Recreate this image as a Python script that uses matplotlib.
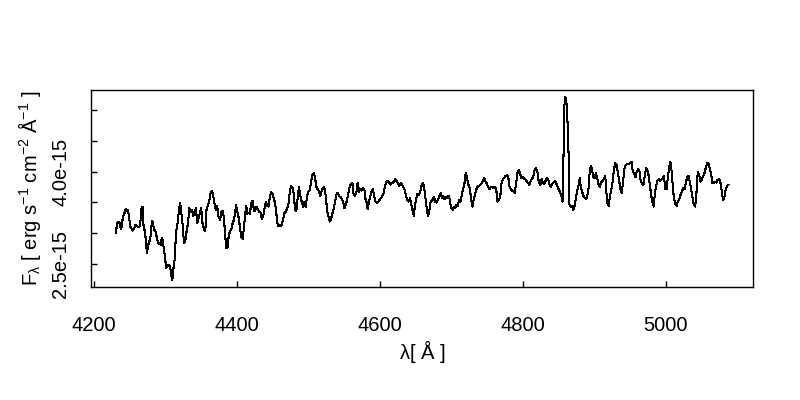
import matplotlib
matplotlib.use("Agg")
import matplotlib.pyplot as plt
import numpy as np

plt.rcParams['font.family'] = ['Liberation Sans', 'DejaVu Sans']
plt.rcParams['mathtext.fontset'] = 'custom'
plt.rcParams['mathtext.rm'] = 'Liberation Sans'
plt.rcParams['mathtext.it'] = 'Liberation Sans'
plt.rcParams['mathtext.default'] = 'regular'

# ---- data: wavelength [Angstrom] and flux [1e-15 erg/s/cm2/A] ----
wl_a = [4230.2, 4232.0, 4233.4, 4235.8, 4237.2, 4238.5, 4240.3, 4242.7, 4244.1, 4245.9, 4247.3, 4248.7,
        4250.6, 4252.5, 4254.3, 4256.2, 4258.0, 4259.8, 4261.8, 4263.6, 4265.0, 4266.4, 4267.8, 4269.2,
        4271.0, 4272.4, 4273.8, 4275.2, 4276.5, 4278.5, 4279.9, 4281.3, 4282.7, 4284.1, 4285.9, 4287.7,
        4289.6, 4291.4, 4293.3, 4294.6, 4296.0, 4297.4, 4298.8, 4300.8, 4302.6, 4304.4, 4306.4, 4307.7,
        4309.5, 4311.3, 4312.7, 4314.7, 4316.5, 4318.3, 4320.3, 4322.1, 4323.9, 4325.8, 4327.6, 4329.4,
        4331.4, 4333.2, 4335.0, 4337.0, 4338.8, 4340.6, 4342.5, 4344.3, 4346.1, 4348.1, 4349.9, 4351.7,
        4353.7, 4355.5, 4357.3, 4359.2, 4361.0, 4362.9, 4364.8, 4366.6, 4368.4, 4370.4, 4372.2, 4374.0]
flux_a = [3.002, 3.136, 3.190, 3.174, 3.066, 3.109, 3.261, 3.336, 3.391, 3.368, 3.383, 3.282,
          3.109, 3.071, 3.044, 3.083, 3.136, 3.120, 3.099, 3.109, 3.217, 3.407, 3.433, 3.109,
          3.028, 2.893, 2.677, 2.774, 2.849, 2.893, 3.086, 3.201, 3.136, 3.055, 3.028, 2.936,
          2.839, 2.828, 2.812, 2.920, 2.893, 2.758, 2.649, 2.433, 2.459, 2.487, 2.470, 2.325,
          2.244, 2.459, 2.568, 3.028, 3.136, 3.326, 3.498, 3.326, 3.136, 2.839, 2.866, 3.028,
          3.164, 3.407, 3.352, 3.380, 3.271, 3.352, 3.407, 3.164, 3.245, 3.326, 3.407, 3.164,
          3.055, 3.028, 3.380, 3.461, 3.514, 3.651, 3.693, 3.623, 3.488, 3.380, 3.445, 3.271]

wl_b = [4376.3, 4378.2, 4380.1, 4381.9, 4383.3, 4385.1, 4387.1, 4388.5, 4390.3, 4392.1, 4394.0, 4395.8,
        4397.7, 4398.6, 4400.4, 4402.4, 4404.2, 4406.0, 4407.9, 4409.8, 4411.6, 4413.0, 4414.4, 4416.3,
        4418.1, 4419.9, 4421.9, 4423.7, 4425.5, 4427.4, 4429.2, 4431.1, 4433.0, 4434.8, 4436.6, 4438.6,
        4440.4, 4442.2, 4444.1, 4446.0, 4447.8, 4449.7, 4451.5, 4453.3, 4455.3, 4457.1, 4458.9, 4460.9,
        4462.7, 4464.5, 4466.4, 4468.2, 4470.0, 4472.0, 4473.8, 4475.6, 4477.5, 4479.4, 4481.2, 4483.1,
        4484.9, 4486.7, 4488.7, 4490.5, 4492.3, 4494.3, 4496.1, 4497.9, 4499.8, 4501.6, 4503.4, 4505.4,
        4507.2, 4509.0, 4511.0, 4512.8, 4514.6, 4516.5, 4518.3, 4520.1, 4522.1]
flux_b = [3.217, 3.352, 3.363, 3.217, 2.974, 2.758, 2.784, 2.974, 3.028, 3.066, 3.164, 3.217,
          3.352, 3.461, 3.352, 3.245, 3.083, 2.947, 2.904, 3.109, 3.326, 3.445, 3.315, 3.336,
          3.315, 3.488, 3.531, 3.368, 3.368, 3.433, 3.391, 3.347, 3.336, 3.232, 3.271, 3.407,
          3.514, 3.445, 3.433, 3.586, 3.677, 3.635, 3.570, 3.488, 3.299, 3.120, 3.136, 3.120,
          3.136, 3.228, 3.326, 3.352, 3.391, 3.477, 3.660, 3.769, 3.748, 3.650, 3.380, 3.363,
          3.570, 3.758, 3.607, 3.514, 3.433, 3.514, 3.423, 3.596, 3.677, 3.693, 3.813, 3.948,
          3.976, 3.921, 3.758, 3.716, 3.677, 3.596, 3.677, 3.732, 3.748]

wl_c = [4524.3, 4526.3, 4528.1, 4529.9, 4531.9, 4533.6, 4535.5, 4537.4, 4539.2, 4541.1, 4543.0, 4544.8,
        4546.6, 4548.6, 4550.3, 4552.2, 4554.1, 4555.9, 4557.7, 4559.7, 4561.5, 4563.3, 4565.2, 4567.0,
        4568.9, 4570.8, 4572.6, 4574.4, 4576.4, 4578.2, 4580.0, 4582.0, 4582.8, 4584.7, 4586.5, 4588.4,
        4590.3, 4592.1, 4593.9, 4595.9, 4597.7, 4599.5, 4601.4, 4603.2, 4605.1, 4607.0, 4608.8, 4610.6,
        4612.6, 4614.4, 4616.2, 4618.1, 4620.0, 4621.8, 4623.7, 4625.5, 4627.3, 4629.3, 4631.1, 4632.9,
        4634.9, 4636.7, 4638.5, 4640.4, 4642.2, 4644.0, 4646.0, 4647.4, 4648.8, 4650.6, 4652.4, 4654.4,
        4656.1, 4658.0, 4659.9, 4661.7, 4663.5, 4665.5, 4667.3, 4669.1, 4671.0]
flux_c = [3.596, 3.352, 3.271, 3.190, 3.245, 3.326, 3.407, 3.514, 3.623, 3.660, 3.596, 3.596,
          3.553, 3.514, 3.407, 3.461, 3.542, 3.651, 3.758, 3.802, 3.823, 3.623, 3.607, 3.660,
          3.823, 3.677, 3.716, 3.693, 3.732, 3.716, 3.542, 3.488, 3.391, 3.514, 3.596, 3.677,
          3.716, 3.596, 3.514, 3.488, 3.514, 3.542, 3.570, 3.596, 3.651, 3.758, 3.840, 3.851,
          3.823, 3.791, 3.813, 3.823, 3.840, 3.878, 3.840, 3.813, 3.769, 3.823, 3.786, 3.748,
          3.704, 3.596, 3.542, 3.514, 3.570, 3.461, 3.352, 3.282, 3.433, 3.542, 3.639, 3.623,
          3.660, 3.758, 3.813, 3.769, 3.596, 3.407, 3.271, 3.352, 3.514]

wl_d = [4673.8, 4675.6, 4677.5, 4679.4, 4681.2, 4683.0, 4685.0, 4686.8, 4688.6, 4690.5, 4692.3, 4694.2,
        4696.1, 4697.9, 4699.7, 4701.7, 4703.5, 4705.3, 4707.3, 4709.0, 4710.9, 4712.8, 4714.6, 4716.5,
        4718.4, 4720.2, 4722.0, 4724.0, 4725.7, 4727.6, 4729.5, 4731.3, 4733.1, 4735.1, 4736.9, 4738.7,
        4740.6, 4742.4, 4744.3, 4746.2, 4748.0, 4749.8, 4751.8, 4753.6, 4755.4, 4757.4, 4759.1, 4761.0,
        4762.9, 4764.7, 4766.5, 4768.5, 4770.3, 4772.1, 4774.0, 4775.9, 4777.7, 4779.6, 4781.4, 4783.2,
        4785.2, 4787.0, 4788.8, 4790.8, 4792.6, 4794.4, 4796.4, 4798.1, 4800.0, 4801.9, 4803.7, 4805.5,
        4807.5, 4809.3, 4811.1, 4813.0, 4814.8, 4816.7, 4818.6, 4820.4, 4822.3]
flux_d = [3.542, 3.596, 3.514, 3.498, 3.542, 3.596, 3.651, 3.570, 3.607, 3.553, 3.596, 3.570,
          3.607, 3.542, 3.407, 3.380, 3.423, 3.407, 3.461, 3.445, 3.542, 3.514, 3.623, 3.716,
          3.813, 3.976, 3.894, 3.786, 3.732, 3.570, 3.433, 3.542, 3.623, 3.716, 3.758, 3.769,
          3.786, 3.813, 3.855, 3.894, 3.840, 3.802, 3.748, 3.716, 3.748, 3.748, 3.732, 3.758,
          3.704, 3.514, 3.542, 3.596, 3.813, 3.878, 3.894, 3.931, 3.943, 3.921, 3.758, 3.716,
          3.693, 3.677, 3.660, 3.813, 3.976, 4.029, 3.964, 3.894, 3.921, 3.878, 3.878, 3.840,
          3.813, 3.786, 3.855, 3.878, 3.931, 4.029, 4.056, 4.001, 3.840]

wl_e = [4824.6, 4826.4, 4828.4, 4830.1, 4832.0, 4833.9, 4835.7, 4837.5, 4839.5, 4841.3, 4843.1, 4845.0,
        4846.8, 4848.7, 4850.6, 4852.4, 4854.2, 4855.6, 4857.0, 4858.0, 4859.0, 4860.4, 4861.7, 4863.1,
        4864.5, 4865.4, 4867.3, 4869.1, 4870.9, 4872.9, 4874.7, 4876.5, 4878.5, 4879.8, 4881.2, 4883.0,
        4884.9, 4886.8, 4888.6, 4890.4, 4892.4, 4893.8, 4895.6, 4897.0, 4898.8, 4900.7, 4902.5, 4904.3,
        4906.3, 4908.1, 4909.9, 4911.9, 4913.7, 4915.5, 4916.4, 4918.3, 4920.2, 4922.0, 4923.9, 4925.8,
        4927.6, 4929.4, 4931.4, 4933.1, 4935.0, 4936.9, 4938.7, 4940.6, 4942.5, 4944.3, 4946.1, 4948.1]
flux_e = [3.786, 3.878, 3.823, 3.802, 3.855, 3.894, 3.878, 3.786, 3.758, 3.802, 3.823, 3.855,
          3.813, 3.758, 3.704, 3.660, 3.607, 3.514, 4.245, 5.003, 5.209, 5.193, 5.057, 4.679,
          4.138, 3.461, 3.433, 3.445, 3.380, 3.461, 3.596, 3.704, 3.802, 3.894, 3.758, 3.677,
          3.607, 3.570, 3.553, 3.607, 3.758, 4.029, 4.094, 4.029, 3.910, 3.894, 3.976, 3.894,
          3.786, 3.758, 3.840, 3.840, 3.894, 3.931, 3.758, 3.488, 3.445, 3.596, 3.704, 3.840,
          4.029, 4.138, 4.110, 3.985, 3.840, 3.704, 3.651, 3.867, 4.056, 4.110, 4.126, 4.126]

wl_f = [4950.8, 4952.2, 4954.0, 4955.8, 4957.8, 4959.6, 4961.4, 4963.4, 4965.2, 4967.0, 4969.0, 4970.7,
        4972.6, 4974.5, 4976.3, 4978.1, 4980.1, 4981.9, 4983.3, 4984.7, 4986.5, 4988.4, 4990.2, 4992.0,
        4994.0, 4995.8, 4997.6, 4999.6, 5001.4, 5003.2, 5005.1, 5006.5, 5007.9, 5009.7, 5011.5, 5013.5,
        5015.3, 5017.1, 5019.0, 5020.8, 5022.7, 5024.6, 5026.4, 5028.3, 5030.2, 5032.0, 5033.8, 5035.8,
        5037.5, 5039.4, 5041.3, 5043.1, 5045.0, 5046.9, 5048.7, 5050.5, 5052.5, 5054.3, 5056.1, 5058.0,
        5059.8, 5061.6, 5063.6, 5065.4, 5067.2, 5069.2, 5070.9, 5072.8, 5074.7, 5076.5, 5078.3, 5080.3,
        5082.1, 5083.9, 5085.9, 5087.7]
flux_f = [4.147, 4.164, 4.001, 3.976, 3.910, 4.001, 4.040, 4.001, 3.840, 3.802, 3.786, 3.931,
          4.056, 4.017, 3.931, 3.758, 3.596, 3.488, 3.433, 3.623, 3.758, 3.855, 3.878, 3.855,
          3.867, 3.894, 3.931, 3.716, 3.716, 3.921, 4.083, 4.164, 4.056, 3.813, 3.570, 3.477,
          3.445, 3.514, 3.553, 3.623, 3.677, 3.732, 3.716, 3.813, 3.921, 3.931, 3.840, 3.704,
          3.596, 3.461, 3.433, 3.651, 4.001, 3.948, 3.840, 3.867, 3.931, 3.976, 4.056, 4.138,
          4.147, 4.056, 3.976, 3.813, 3.813, 3.840, 3.823, 3.867, 3.878, 3.840, 3.704, 3.542,
          3.570, 3.704, 3.769, 3.786]

x_ticks = [4200, 4400, 4600, 4800, 5000]
y_ticks = [2.5e-15, 3.0e-15, 3.5e-15, 4.0e-15, 4.5e-15, 5.0e-15]
y_tick_labels = ['2.5e-15', '', '', '4.0e-15', '', '']

wl_parts = [wl_a, wl_b, wl_c, wl_d, wl_e, wl_f]
fl_parts = [flux_a, flux_b, flux_c, flux_d, flux_e, flux_f]
for w, f in zip(wl_parts, fl_parts):
    assert len(w) == len(f), (len(w), len(f))
wavelength = np.concatenate(wl_parts)
flux = np.concatenate(fl_parts) * 1e-15

fig = plt.figure(figsize=(8, 4), dpi=100)
ax = fig.add_axes([0.114, 0.2825, 0.941 - 0.114, 0.775 - 0.2825])
ax.plot(wavelength, flux, color='black', lw=0.75, antialiased=False)
ax.margins(x=0.04, y=0.04)

for s in ax.spines.values():
    s.set_linewidth(1.0)
    s.set_color('black')

ax.set_xticks(x_ticks)
ax.set_xticklabels([str(t) for t in x_ticks])
ax.set_yticks(y_ticks)
ax.set_yticklabels(y_tick_labels)
ax.tick_params(axis='both', direction='in', length=4, width=1, labelsize=14.5,
               top=False, right=False)
ax.tick_params(axis='x', pad=21)
ax.tick_params(axis='y', pad=15)
for lab in ax.get_yticklabels():
    lab.set_rotation(90)
    lab.set_va('center')

ax.set_xlabel(r'$\lambda$[ Å ]', fontsize=14.5, labelpad=2)
ax.set_ylabel(r'F$_\lambda$ [ erg s$^{-1}$ cm$^{-2}$ Å$^{-1}$ ]', fontsize=14.5, labelpad=6)

fig.savefig('out.png', dpi=100)
